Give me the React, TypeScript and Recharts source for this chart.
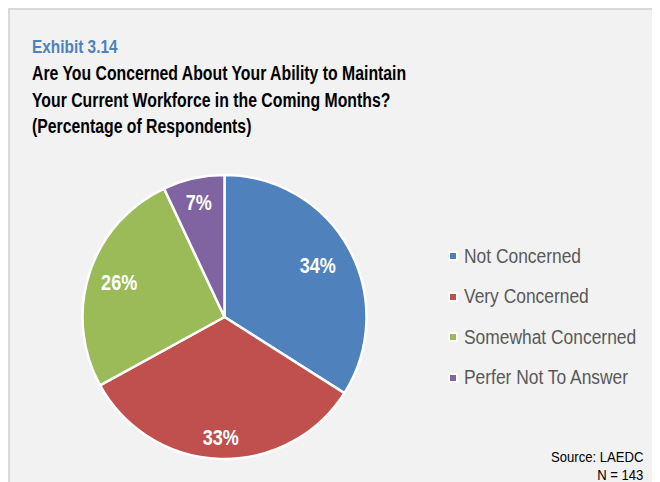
import { PieChart, Pie, Cell, Legend } from 'recharts'

const categories = ['Not Concerned', 'Very Concerned', 'Somewhat Concerned', 'Perfer Not To Answer']
const shares = [34, 33, 26, 7]
const colors = ['#4f81bd', '#c0504d', '#9bbb59', '#8064a2']
// how far out each percentage label sits (fraction of the radius)
const labelRadius = [0.75, 0.85, 0.78, 0.83]

const data = categories.map((name, i) => ({ name, value: shares[i] }))

// no narrow font installed, so squeeze Liberation Sans horizontally
const font = '"Liberation Sans", Arial, sans-serif'
const RAD = Math.PI / 180

const renderLabel = (props: any) => {
  const { cx, cy, midAngle, outerRadius, value, index } = props
  const r = outerRadius * labelRadius[index]
  const x = cx + r * Math.cos(-midAngle * RAD)
  const y = cy + r * Math.sin(-midAngle * RAD)
  return (
    <text transform={`translate(${x},${y}) scale(0.84,1)`} x={0} y={0} fill="#fff"
      textAnchor="middle" dominantBaseline="central" fontFamily={font} fontWeight="bold" fontSize={21.5}>
      {value}%
    </text>
  )
}

const renderLegend = () => (
  <div>
    {categories.map((name, i) => (
      <div key={name} style={{ display: 'flex', alignItems: 'center', height: 40.5 }}>
        <span style={{ width: 6, height: 6, background: colors[i], border: '2px solid #fff', marginRight: 6 }} />
        <span style={{ fontFamily: font, fontSize: 20, color: '#595959', whiteSpace: 'nowrap',
          display: 'inline-block', transform: 'scaleX(0.87)', transformOrigin: 'left center' }}>{name}</span>
      </div>
    ))}
  </div>
)

export default function App() {
  return (
    <div style={{ position: 'relative', width: 652, height: 474, background: '#f2f2f2',
      boxShadow: 'inset 2px 2px 0 #d9d9d9' }}>
      <div style={{ position: 'absolute', left: 24, top: 25, fontFamily: font, fontWeight: 'bold',
        transform: 'scaleX(0.81)', transformOrigin: 'left top', whiteSpace: 'nowrap' }}>
        <div style={{ color: '#4f81bd', fontSize: 19, lineHeight: '27px' }}>Exhibit 3.14</div>
        <div style={{ color: '#000', fontSize: 19.5, lineHeight: '26.5px' }}>
          Are You Concerned About Your Ability to Maintain<br />
          Your Current Workforce in the Coming Months?<br />
          (Percentage of Respondents)
        </div>
      </div>
      <div style={{ position: 'absolute', left: 0, top: 0 }}>
        <PieChart width={652} height={474} margin={{ top: 0, right: 0, bottom: 0, left: 0 }}>
          <Pie data={data} dataKey="value" nameKey="name" cx={216.5} cy={309} outerRadius={142}
            startAngle={90} endAngle={-270} stroke="#fff" strokeWidth={2.5}
            label={renderLabel} labelLine={false} isAnimationActive={false}>
            {data.map((d, i) => <Cell key={d.name} fill={colors[i]} />)}
          </Pie>
          <Legend layout="vertical" content={renderLegend}
            wrapperStyle={{ left: 440, top: 228, width: 216 }} />
        </PieChart>
      </div>
      <div style={{ position: 'absolute', right: 17, top: 440, textAlign: 'right', fontFamily: font,
        fontSize: 15.5, lineHeight: '18px', color: '#000', whiteSpace: 'nowrap',
        transform: 'scaleX(0.845)', transformOrigin: 'right top' }}>
        Source: LAEDC<br />N = 143
      </div>
    </div>
  )
}
